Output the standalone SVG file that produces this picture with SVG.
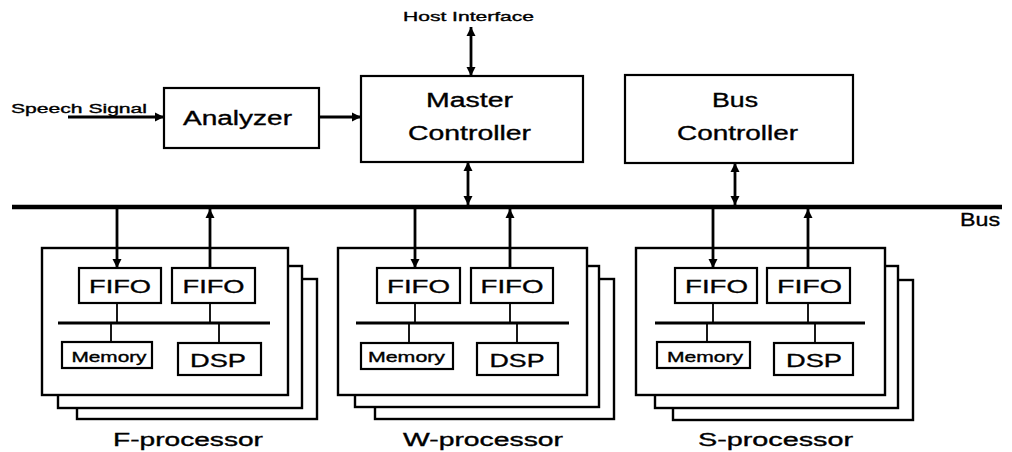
<svg xmlns="http://www.w3.org/2000/svg" width="1012" height="452" viewBox="0 0 1012 452">
  <defs>
    <marker id="head" viewBox="0 0 10 10" refX="10" refY="5" markerWidth="9" markerHeight="10" markerUnits="userSpaceOnUse" orient="auto-start-reverse">
      <path d="M0,0 L10,5 L0,10 Z" fill="#000"/>
    </marker>
    <style>
      .box { fill: #fff; stroke: #000; stroke-width: 2.2; }
      .card { fill: #fff; stroke: #000; stroke-width: 2.4; }
      .wire { fill: none; stroke: #000; stroke-width: 2.6; }
      .thin { fill: none; stroke: #000; stroke-width: 1.8; }
      .ibus { fill: none; stroke: #000; stroke-width: 3; }
      .bus { fill: none; stroke: #000; stroke-width: 4.5; }
      .arrow { fill: none; stroke: #000; stroke-width: 2.8; marker-end: url(#head); }
      .arrow2 { fill: none; stroke: #000; stroke-width: 2.8; marker-start: url(#head); marker-end: url(#head); }
      text { font-family: "Liberation Sans", Arial, sans-serif; fill: #000; stroke: #000; stroke-width: 0.35; }
      .lg { font-size: 20px; }
      .md { font-size: 19px; }
      .sm { font-size: 14px; }
      .xs { font-size: 13px; }
      .cap { font-size: 18px; }
    </style>
  </defs>

  <!-- system bus -->
  <g id="bus">
    <line class="bus" x1="12" y1="207" x2="1002" y2="207"/>
    <text class="cap" x="960" y="226" textLength="40" lengthAdjust="spacingAndGlyphs">Bus</text>
  </g>

  <!-- external labels -->
  <text id="speech-signal" class="xs" x="11" y="113" textLength="136" lengthAdjust="spacingAndGlyphs">Speech Signal</text>
  <text id="host-interface" class="xs" x="403" y="21" textLength="131" lengthAdjust="spacingAndGlyphs">Host Interface</text>

  <g id="analyzer">
    <rect class="box" x="164" y="88" width="155" height="60"/>
    <text class="lg" x="237.5" y="125" text-anchor="middle" textLength="109" lengthAdjust="spacingAndGlyphs">Analyzer</text>
  </g>

  <g id="master-controller">
    <rect class="box" x="361" y="76" width="222" height="86"/>
    <text class="lg" x="469.5" y="107" text-anchor="middle" textLength="87" lengthAdjust="spacingAndGlyphs">Master</text>
    <text class="lg" x="469.5" y="140" text-anchor="middle" textLength="123" lengthAdjust="spacingAndGlyphs">Controller</text>
  </g>

  <g id="bus-controller">
    <rect class="box" x="625" y="75" width="228" height="88"/>
    <text class="lg" x="735" y="107" text-anchor="middle" textLength="46" lengthAdjust="spacingAndGlyphs">Bus</text>
    <text class="lg" x="737.5" y="140" text-anchor="middle" textLength="121" lengthAdjust="spacingAndGlyphs">Controller</text>
  </g>

  <!-- processor board: three stacked cards, two FIFOs, local bus, memory and DSP -->
  <g id="f-processor" transform="translate(42,248)">
    <rect class="card" x="35" y="31" width="240" height="140"/>
    <rect class="card" x="16" y="18" width="244" height="142"/>
    <rect class="card" x="0" y="0" width="246" height="147"/>
    <rect class="box" x="37" y="20" width="82" height="35"/>
    <text class="md" x="78" y="45" text-anchor="middle" textLength="62" lengthAdjust="spacingAndGlyphs">FIFO</text>
    <rect class="box" x="130" y="20" width="83" height="35"/>
    <text class="md" x="171.5" y="45" text-anchor="middle" textLength="62" lengthAdjust="spacingAndGlyphs">FIFO</text>
    <line class="thin" x1="75" y1="55" x2="75" y2="75"/>
    <line class="thin" x1="168" y1="55" x2="168" y2="75"/>
    <line class="ibus" x1="16" y1="75" x2="228" y2="75"/>
    <line class="thin" x1="69" y1="75" x2="69" y2="94"/>
    <line class="thin" x1="177" y1="75" x2="177" y2="95"/>
    <rect class="box" x="20" y="94" width="90" height="26"/>
    <text class="sm" x="67" y="114" text-anchor="middle" textLength="75" lengthAdjust="spacingAndGlyphs">Memory</text>
    <rect class="box" x="136" y="95" width="83" height="32"/>
    <text class="md" x="176" y="119" text-anchor="middle" textLength="56" lengthAdjust="spacingAndGlyphs">DSP</text>
    <text class="cap" x="146" y="198" text-anchor="middle" textLength="150" lengthAdjust="spacingAndGlyphs">F-processor</text>
  </g>

  <g id="w-processor" transform="translate(338,248)">
    <rect class="card" x="37" y="31" width="239" height="140"/>
    <rect class="card" x="17" y="18" width="244" height="141"/>
    <rect class="card" x="0" y="0" width="249" height="147"/>
    <rect class="box" x="39" y="20" width="83" height="35"/>
    <text class="md" x="80.5" y="45" text-anchor="middle" textLength="63" lengthAdjust="spacingAndGlyphs">FIFO</text>
    <rect class="box" x="133" y="20" width="82" height="35"/>
    <text class="md" x="174" y="45" text-anchor="middle" textLength="63" lengthAdjust="spacingAndGlyphs">FIFO</text>
    <line class="thin" x1="77" y1="55" x2="77" y2="75"/>
    <line class="thin" x1="172" y1="55" x2="172" y2="75"/>
    <line class="ibus" x1="18" y1="75" x2="231" y2="75"/>
    <line class="thin" x1="71" y1="75" x2="71" y2="95"/>
    <line class="thin" x1="179" y1="75" x2="179" y2="95"/>
    <rect class="box" x="23" y="95" width="92" height="26"/>
    <text class="sm" x="68.5" y="114" text-anchor="middle" textLength="77" lengthAdjust="spacingAndGlyphs">Memory</text>
    <rect class="box" x="139" y="95" width="81" height="32"/>
    <text class="md" x="179" y="119" text-anchor="middle" textLength="55" lengthAdjust="spacingAndGlyphs">DSP</text>
    <text class="cap" x="145" y="198" text-anchor="middle" textLength="160" lengthAdjust="spacingAndGlyphs">W-processor</text>
  </g>

  <g id="s-processor" transform="translate(636,248)">
    <rect class="card" x="37" y="32" width="240" height="140"/>
    <rect class="card" x="19" y="18" width="243" height="142"/>
    <rect class="card" x="0" y="0" width="249" height="147"/>
    <rect class="box" x="39" y="20" width="82" height="35"/>
    <text class="md" x="80.5" y="45" text-anchor="middle" textLength="63" lengthAdjust="spacingAndGlyphs">FIFO</text>
    <rect class="box" x="131" y="20" width="83" height="35"/>
    <text class="md" x="173.5" y="45" text-anchor="middle" textLength="65" lengthAdjust="spacingAndGlyphs">FIFO</text>
    <line class="thin" x1="77" y1="55" x2="77" y2="75"/>
    <line class="thin" x1="172" y1="55" x2="172" y2="75"/>
    <line class="ibus" x1="19" y1="75" x2="229" y2="75"/>
    <line class="thin" x1="71" y1="75" x2="71" y2="94"/>
    <line class="thin" x1="179" y1="75" x2="179" y2="95"/>
    <rect class="box" x="21" y="94" width="93" height="26"/>
    <text class="sm" x="69" y="114" text-anchor="middle" textLength="76" lengthAdjust="spacingAndGlyphs">Memory</text>
    <rect class="box" x="138" y="95" width="79" height="32"/>
    <text class="md" x="178" y="119" text-anchor="middle" textLength="56" lengthAdjust="spacingAndGlyphs">DSP</text>
    <text class="cap" x="139.5" y="198" text-anchor="middle" textLength="155" lengthAdjust="spacingAndGlyphs">S-processor</text>
  </g>

  <!-- connectors -->
  <g id="connectors">
    <line class="arrow" x1="68" y1="117" x2="164" y2="117"/>
    <line class="arrow" x1="319" y1="117" x2="361" y2="117"/>
    <line class="arrow2" x1="471" y1="27" x2="471" y2="76"/>
    <line class="arrow2" x1="468" y1="162" x2="468" y2="205"/>
    <line class="arrow2" x1="735" y1="163" x2="735" y2="205"/>
    <!-- bus to input FIFO, output FIFO to bus -->
    <line class="arrow" x1="117" y1="209" x2="117" y2="268"/>
    <line class="arrow" x1="210" y1="268" x2="210" y2="209"/>
    <line class="arrow" x1="415" y1="209" x2="415" y2="268"/>
    <line class="arrow" x1="510" y1="268" x2="510" y2="209"/>
    <line class="arrow" x1="713" y1="209" x2="713" y2="268"/>
    <line class="arrow" x1="808" y1="268" x2="808" y2="209"/>
  </g>
</svg>
